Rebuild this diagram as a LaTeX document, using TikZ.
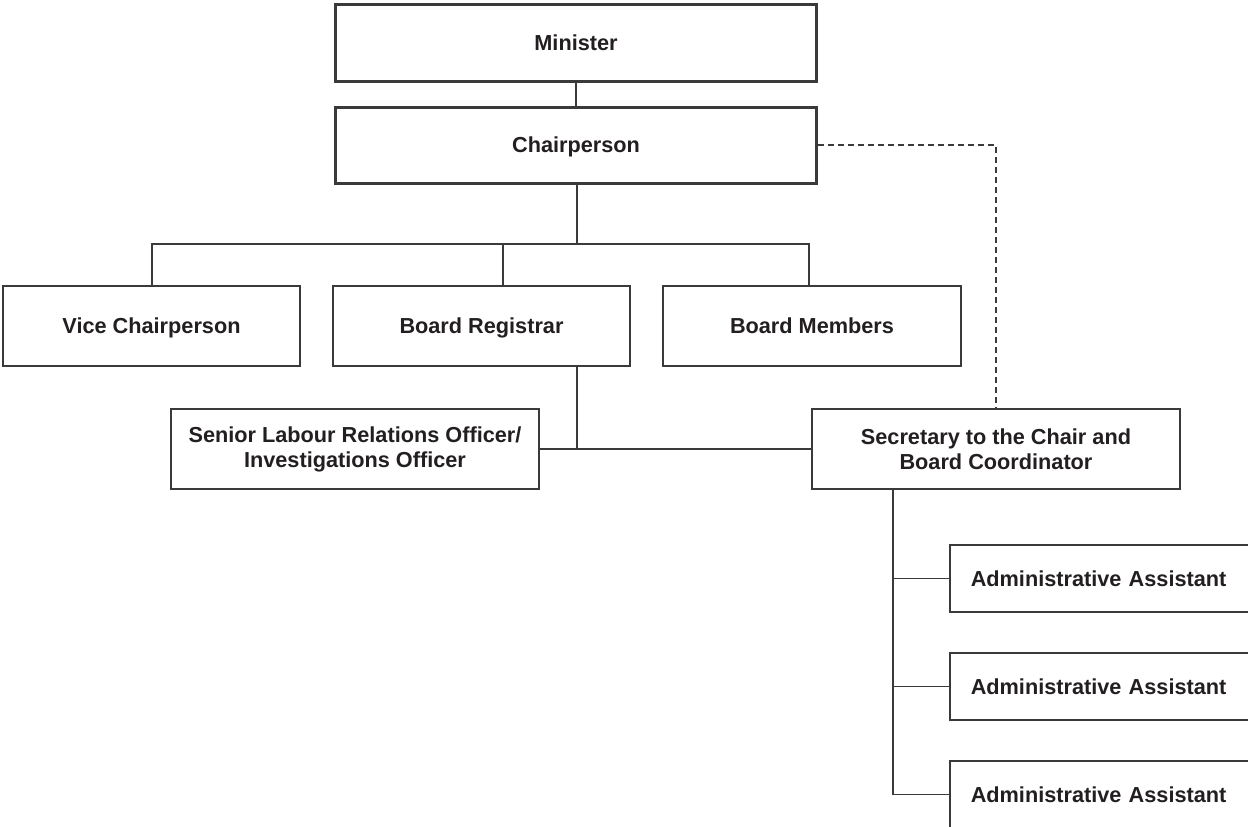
\documentclass[tikz,border=0pt]{standalone}
\usepackage{fontspec}
\setmainfont{Liberation Sans}
\definecolor{ink}{HTML}{231F20}
\definecolor{rulec}{HTML}{3A3A3A}
\tikzset{
  box/.style={draw=rulec, line width=1.5pt, text=ink, font=\fontsize{21.7}{25}\selectfont\bfseries, align=center, inner sep=0pt},
  oneline/.style={text height=15.5pt, text depth=0pt},
  thickbox/.style={box, oneline, line width=3pt},
  conn/.style={draw=rulec, line width=1.5pt},
  dashconn/.style={conn, dash pattern=on 6pt off 4pt},
  adminbox/.style={box, oneline, minimum height=67pt, text width=300pt, align=left, inner xsep=21pt, anchor=west}
}
\begin{document}
\begin{tikzpicture}[x=1pt,y=-1pt]
\useasboundingbox (0,0) rectangle (1248,827);
\clip (0,0) rectangle (1248,827);
\fill[white] (0,0) rectangle (1248,827);
% top boxes
\node[thickbox, minimum width=481pt, minimum height=77pt] (min) at (576,42.5) {Minister};
\node[thickbox, minimum width=481pt, minimum height=76pt] (ch) at (576,145) {Chairperson};
% second row
\node[box, oneline, minimum width=297pt, minimum height=80pt] (vc) at (151.5,326) {Vice Chairperson};
\node[box, oneline, minimum width=297pt, minimum height=80pt] (br) at (481.5,326) {Board Registrar};
\node[box, oneline, minimum width=298pt, minimum height=80pt] (bm) at (812,326) {Board Members};
% third row
\node[box, minimum width=368pt, minimum height=80pt] (slro) at (355,449) {Senior Labour Relations Officer/\\Investigations Officer};
\node[box, minimum width=368pt, minimum height=80pt] (sec) at (996,449) {Secretary to the Chair and\\Board Coordinator};
% admin assistants
\node[adminbox] (aa1) at (949,578.5) {Administrative Assistant};
\node[adminbox] (aa2) at (949,686.5) {Administrative Assistant};
\node[adminbox] (aa3) at (949,794.5) {Administrative Assistant};
% connectors
\coordinate (busL) at (152,244);
\coordinate (busR) at (809,244);
\coordinate (brDrop) at (503,244);
\coordinate (regDrop) at (577,366);
\coordinate (secDrop) at (893,489);
\draw[conn] (min.south) -- (ch.north);
\draw[conn] (ch.south -| regDrop) -- (busL -| regDrop);
\draw[conn] (vc.north -| busL) -- (busL) -- (busR) -- (busR |- bm.north);
\draw[conn] (brDrop) -- (brDrop |- br.north);
\draw[conn] (regDrop) -- (regDrop |- slro.east);
\draw[conn] (slro.east) -- (sec.west);
\draw[conn] (secDrop) -- (secDrop |- aa3.west);
\draw[conn] (secDrop |- aa1.west) -- (aa1.west);
\draw[conn] (secDrop |- aa2.west) -- (aa2.west);
\draw[conn] (secDrop |- aa3.west) -- (aa3.west);
\draw[dashconn] (ch.east) -| (sec.north);
\end{tikzpicture}
\end{document}
